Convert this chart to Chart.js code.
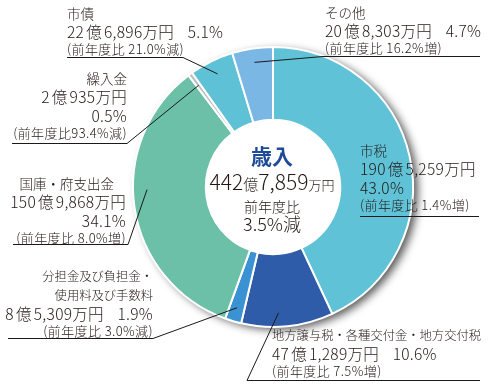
<!DOCTYPE html>
<html lang="ja">
<head>
  <meta charset="UTF-8">
  <title>歳入</title>
  <script src="https://cdn.jsdelivr.net/npm/chart.js"></script>
  <style>
    body {
      margin: 0;
      background: #ffffff;
      font-family: 'Noto Sans CJK JP', sans-serif;
      font-weight: 300;
      color: #231815;
    }
    .wrap {
      position: relative;
      width: 493px;
      height: 388px;
    }
    canvas { position: absolute; left: 0; top: 0; }
    .lbl {
      position: absolute;
      font-size: 13.5px;
      line-height: 18px;
      white-space: nowrap;
    }
    .lbl .sm { font-size: 13px; letter-spacing: 0.4px; position: relative; top: -2px; }
    .lbl .amt { font-size: 15.5px; letter-spacing: 0.3px; }
    .lbl .oku { padding: 0 2px; }
    .lbl .narrow { font-size: 12.3px; }
    .lbl.r { text-align: right; }
    .center {
      position: absolute;
      left: 192px;
      width: 160px;
      text-align: center;
      white-space: nowrap;
      line-height: 1;
    }
  </style>
</head>
<body>
  <div class="wrap" id="wrap">
    <canvas id="pie" width="493" height="388"></canvas>
  </div>
  <script>
    // revenue breakdown (clockwise from top)
    const categories = ['市税', '地方譲与税・各種交付金・地方交付税', '分担金及び負担金・使用料及び手数料', '国庫・府支出金', '繰入金', '市債', 'その他'];
    const shares = [43.0, 10.6, 1.9, 34.1, 0.5, 5.1, 4.7];
    const amounts = ['190億5,259万円', '47億1,289万円', '8億5,309万円', '150億9,868万円', '2億935万円', '22億6,896万円', '20億8,303万円'];
    const changes = ['1.4%増', '7.5%増', '3.0%減', '8.0%増', '93.4%減', '21.0%減', '16.2%増'];
    const colors = ['#5fc2d6', '#2e5ca8', '#3a92d2', '#6bc0a7', '#bdbdbd', '#5ec1d5', '#7ab7e5'];
    const total = '442億7,859万円';
    const totalChange = '3.5%減';

    function sm(s) { return '<span class="sm">' + s + '</span>'; }
    function amt(i) { return '<span class="amt">' + amounts[i].replace('億', '<span class="oku">億</span>') + '</span>'; }
    function pct(i) { return '<span class="amt">' + shares[i].toFixed(1) + '%</span>'; }
    function chg(i) { return sm('(前年度比 ' + changes[i] + ')'); }

    // label blocks
    const labelBoxes = [
      { i: 0, left: 360, top: 141, lines: i => [categories[i], amt(i), pct(i), chg(i)] },
      { i: 1, left: 272, top: 325, lines: i => ['<span class="narrow">' + categories[i] + '</span>', amt(i) + '　' + pct(i), chg(i)] },
      { i: 2, right: 153, top: 266, lines: i => ['<span class="narrow">分担金及び負担金・</span>', '<span class="narrow">使用料及び手数料</span>', amt(i) + '　' + pct(i), chg(i)] },
      { i: 3, right: 126, top: 174, lines: i => ['<span style="padding-right:12px">' + categories[i] + '</span>', amt(i), pct(i), chg(i)] },
      { i: 4, right: 127, top: 69, lines: i => [categories[i], amt(i), pct(i), sm('(前年度比' + changes[i] + ')')] },
      { i: 5, left: 67, top: 4, lines: i => [categories[i], amt(i) + '　' + pct(i), chg(i)] },
      { i: 6, left: 325, top: 3, lines: i => [categories[i], amt(i) + '　' + pct(i), chg(i)] }
    ];

    // leader lines: label underline, then into the slice (t = position along slice)
    const leaders = [
      { i: 0, pts: [[360, 216.5], [479, 216.5]] },
      { i: 1, t: 0.59, pts: [[480, 380.5], [247, 380.5]] },
      { i: 2, t: 0.5, pts: [[8, 338.5], [153, 338.5]] },
      { i: 3, t: 0.56, pts: [[13, 244.5], [128, 244.5]] },
      { i: 4, t: 0.5, pts: [[12, 143.5], [127, 143.5]] },
      { i: 5, t: 0.5, pts: [[67, 57.5], [183, 57.5]] },
      { i: 6, t: 0.5, pts: [[480, 56.5], [323, 56.5]] }
    ];

    const wrap = document.getElementById('wrap');
    labelBoxes.forEach(b => {
      const d = document.createElement('div');
      d.className = 'lbl';
      if (b.right !== undefined) {
        d.className += ' r';
        d.style.right = (493 - b.right) + 'px';
      } else {
        d.style.left = b.left + 'px';
      }
      d.style.top = b.top + 'px';
      d.innerHTML = b.lines(b.i).map(l => '<div>' + l + '</div>').join('');
      wrap.appendChild(d);
    });

    // center text
    const centerHtml = [
      { y: 145, html: '<span style="font-size:21px;font-weight:bold;color:#1d4b98">歳入</span>' },
      { y: 171, html: total.replace(/(\d[\d,]*)/g, '<span style="font-size:21px">$1</span>').replace('億', '<span style="font-size:15px">億</span>').replace('万円', '<span style="font-size:13px">万円</span>') },
      { y: 197, html: '<span style="font-size:14px">前年度比</span>' },
      { y: 214, html: '<span style="font-size:18px">' + totalChange + '</span>' }
    ];
    centerHtml.forEach(c => {
      const d = document.createElement('div');
      d.className = 'center';
      d.style.top = c.y + 'px';
      d.innerHTML = c.html;
      wrap.appendChild(d);
    });

    const shadowPlugin = {
      id: 'ringShadow',
      beforeDatasetsDraw(chart) {
        const arc = chart.getDatasetMeta(0).data[0];
        const ctx = chart.ctx;
        ctx.save();
        ctx.shadowColor = 'rgba(0,0,0,0.65)';
        ctx.shadowBlur = 9;
        ctx.shadowOffsetX = 5;
        ctx.shadowOffsetY = 3;
        ctx.fillStyle = '#ffffff';
        ctx.beginPath();
        ctx.arc(arc.x, arc.y, arc.outerRadius, 0, Math.PI * 2);
        ctx.fill();
        ctx.restore();
      }
    };

    const leaderPlugin = {
      id: 'leaders',
      afterDatasetsDraw(chart) {
        const ctx = chart.ctx;
        const meta = chart.getDatasetMeta(0);
        ctx.save();
        ctx.strokeStyle = '#1a1a1a';
        ctx.lineWidth = 1;
        leaders.forEach(l => {
          ctx.beginPath();
          ctx.moveTo(l.pts[0][0], l.pts[0][1]);
          for (let k = 1; k < l.pts.length; k++) ctx.lineTo(l.pts[k][0], l.pts[k][1]);
          if (l.t !== undefined) {
            const a = meta.data[l.i];
            const ang = a.startAngle + (a.endAngle - a.startAngle) * l.t;
            const r = a.outerRadius * 0.9;
            ctx.lineTo(a.x + Math.cos(ang) * r, a.y + Math.sin(ang) * r);
          }
          ctx.stroke();
        });
        ctx.restore();
      }
    };

    new Chart(document.getElementById('pie'), {
      type: 'doughnut',
      data: {
        labels: categories,
        datasets: [{
          data: shares,
          backgroundColor: colors,
          borderColor: '#ffffff',
          borderWidth: 2
        }]
      },
      options: {
        responsive: false,
        animation: false,
        cutout: '48%',
        layout: { padding: { left: 132, right: 79, top: 46, bottom: 60 } },
        plugins: {
          legend: { display: false },
          tooltip: { enabled: false }
        }
      },
      plugins: [shadowPlugin, leaderPlugin]
    });
  </script>
</body>
</html>
